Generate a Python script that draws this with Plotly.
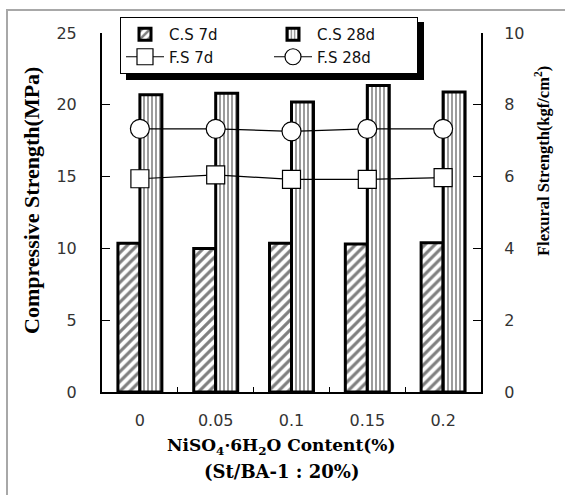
import plotly.graph_objects as go

# NiSO4·6H2O content (%) for each mix
contents = ["0", "0.05", "0.1", "0.15", "0.2"]

# compressive strength (MPa)
cs_7d = [10.35, 10.0, 10.35, 10.3, 10.4]
cs_28d = [20.7, 20.8, 20.2, 21.35, 20.9]

# flexural strength (kgf/cm2)
fs_7d = [5.94, 6.05, 5.92, 5.92, 5.97]
fs_28d = [7.33, 7.33, 7.26, 7.33, 7.33]

W, H = 565, 495
ML, MR, MT, MB = 102, 84, 33, 103
PW, PH = W - ML - MR, H - MT - MB


def px(x):
    return (x - ML) / PW


def py(y):
    return (H - MB - y) / PH


tick_font = dict(family="DejaVu Sans", size=16, color="#333333")

fig = go.Figure()

fig.add_trace(go.Bar(
    x=contents, y=cs_7d, name="C.S 7d",
    marker=dict(color="white",
                line=dict(color="black", width=3),
                pattern=dict(shape="/", fgcolor="black", bgcolor="white",
                             size=7, solidity=0.45)),
))
fig.add_trace(go.Bar(
    x=contents, y=cs_28d, name="C.S 28d",
    marker=dict(color="white",
                line=dict(color="black", width=3),
                pattern=dict(shape="|", fgcolor="#222222", bgcolor="white",
                             size=4, solidity=0.45)),
))
fig.add_trace(go.Scatter(
    x=contents, y=fs_7d, name="F.S 7d", yaxis="y2", mode="lines+markers",
    line=dict(color="black", width=1.2),
    marker=dict(symbol="square", size=18, color="white",
                line=dict(color="black", width=1.2)),
))
fig.add_trace(go.Scatter(
    x=contents, y=fs_28d, name="F.S 28d", yaxis="y2", mode="lines+markers",
    line=dict(color="black", width=1.2),
    marker=dict(symbol="circle", size=19, color="white",
                line=dict(color="black", width=1.2)),
))

fig.update_layout(
    width=W, height=H,
    margin=dict(l=ML, r=MR, t=MT, b=MB),
    paper_bgcolor="white", plot_bgcolor="white",
    barmode="group", bargap=0.42, bargroupgap=0,
    showlegend=True,
    legend=dict(
        orientation="h", x=px(120), xanchor="left",
        y=py(74), yanchor="bottom",
        bgcolor="white", bordercolor="black", borderwidth=1,
        font=dict(family="DejaVu Sans", size=15, color="#111111"),
        entrywidth=95, itemwidth=38, traceorder="normal",
    ),
    xaxis=dict(
        type="category", showline=True, linecolor="black", linewidth=2,
        ticks="inside", tickson="boundaries", ticklen=5, tickwidth=1.2,
        tickcolor="black", tickfont=tick_font, ticklabelstandoff=13,
        showgrid=False, zeroline=False, mirror=False,
    ),
    yaxis=dict(
        range=[0, 25], dtick=5, showline=True, linecolor="black", linewidth=2,
        ticks="inside", ticklen=8, tickwidth=1.2, tickcolor="black",
        tickfont=tick_font, ticklabelstandoff=20,
        showgrid=False, zeroline=False,
    ),
    yaxis2=dict(
        range=[0, 10], dtick=2, overlaying="y", side="right",
        showline=True, linecolor="black", linewidth=2,
        ticks="inside", ticklen=8, tickwidth=1.2, tickcolor="black",
        tickfont=tick_font, ticklabelstandoff=18,
        showgrid=False, zeroline=False,
    ),
)

# legend drop shadow
fig.add_shape(type="rect", xref="paper", yref="paper",
              x0=px(126), x1=px(424), y0=py(80), y1=py(22),
              fillcolor="black", line=dict(width=0), layer="above")

# thin frame along the top and left edges
fig.add_shape(type="path", xref="paper", yref="paper",
              path=f"M {px(565)},{py(10)} L {px(7)},{py(10)} L {px(7)},{py(495)}",
              line=dict(color="#a8a8a8", width=2), layer="below")

# axis titles
fig.add_annotation(
    text="Compressive Strength(MPa)", xref="paper", yref="paper",
    x=px(31), y=py(201), xanchor="center", yanchor="middle",
    textangle=-90, showarrow=False,
    font=dict(family="Liberation Serif", size=22, color="black", weight="bold"),
)
fig.add_annotation(
    text="Flexural Strength(kgf/cm<sup>2</sup>)", xref="paper", yref="paper",
    x=px(542), y=py(161), xanchor="center", yanchor="middle",
    textangle=-90, showarrow=False,
    font=dict(family="Liberation Serif", size=16.5, color="black", weight="bold"),
)
fig.add_annotation(
    text="NiSO<sub>4</sub>·6H<sub>2</sub>O Content(%)", xref="paper", yref="paper",
    x=px(281), y=py(447), xanchor="center", yanchor="middle", showarrow=False,
    font=dict(family="DejaVu Serif", size=17, color="black", weight="bold"),
)
fig.add_annotation(
    text="(St/BA-1 : 20%)", xref="paper", yref="paper",
    x=px(281), y=py(471), xanchor="center", yanchor="middle", showarrow=False,
    font=dict(family="DejaVu Serif", size=18, color="black", weight="bold"),
)

fig.write_html("out.html")
